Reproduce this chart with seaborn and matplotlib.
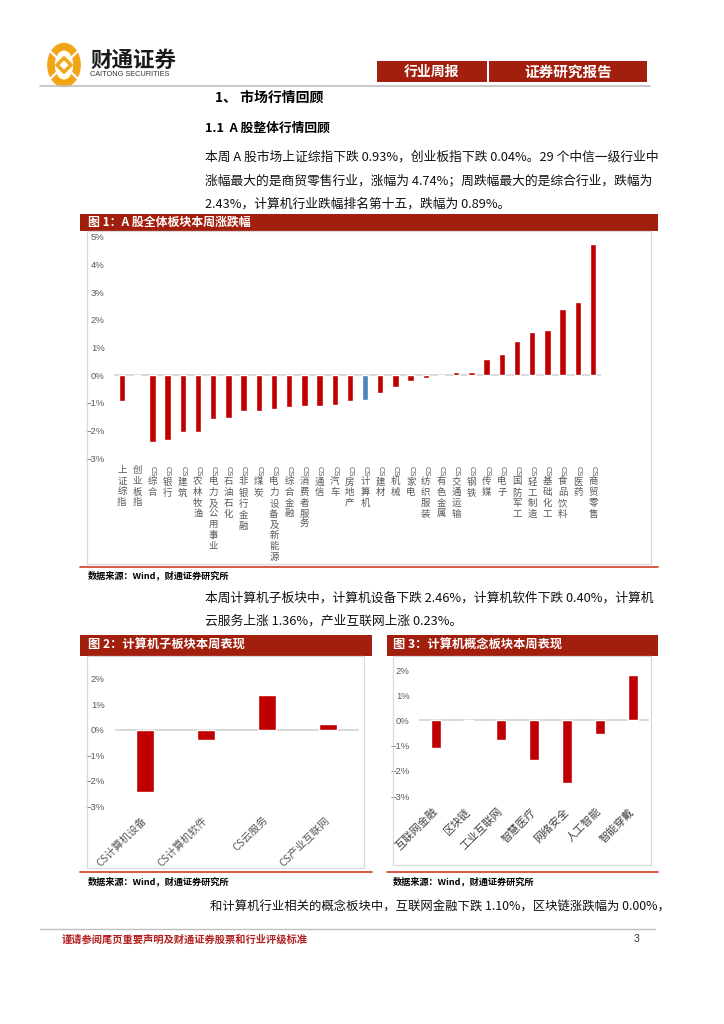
import numpy as np
import pandas as pd
import matplotlib
matplotlib.use("Agg")
import matplotlib.pyplot as plt
import seaborn as sns
from matplotlib.patches import Rectangle, Circle, Polygon
from matplotlib.lines import Line2D
from matplotlib.ticker import FuncFormatter
import matplotlib.transforms as mtrans

# ---------------- data ----------------
sectors = ["上证综指", "创业板指", "CS综合", "CS银行", "CS建筑", "CS农林牧渔",
           "CS电力及公用事业", "CS石油石化", "CS非银行金融", "CS煤炭",
           "CS电力设备及新能源", "CS综合金融", "CS消费者服务", "CS通信", "CS汽车",
           "CS房地产", "CS计算机", "CS建材", "CS机械", "CS家电", "CS纺织服装",
           "CS有色金属", "CS交通运输", "CS钢铁", "CS传媒", "CS电子", "CS国防军工",
           "CS轻工制造", "CS基础化工", "CS食品饮料", "CS医药", "CS商贸零售"]
sector_chg = [-0.93, -0.04, -2.43, -2.36, -2.07, -2.07, -1.60, -1.54, -1.30, -1.30,
              -1.24, -1.17, -1.11, -1.11, -1.09, -0.95, -0.89, -0.63, -0.44, -0.22,
              -0.12, -0.04, 0.10, 0.10, 0.59, 0.75, 1.24, 1.57, 1.63, 2.39, 2.64, 4.74]
highlight = "CS计算机"
main_ticks = [-3, -2, -1, 0, 1, 2, 3, 4, 5]

sub_names = ["CS计算机设备", "CS计算机软件", "CS云服务", "CS产业互联网"]
sub_chg = [-2.46, -0.40, 1.36, 0.23]
sub_ticks = [-3, -2, -1, 0, 1, 2]

concept_names = ["互联网金融", "区块链", "工业互联网", "智慧医疗", "网络安全", "人工智能", "智能穿戴"]
concept_chg = [-1.08, -0.04, -0.79, -1.58, -2.50, -0.53, 1.79]
concept_ticks = [-3, -2, -1, 0, 1, 2]

# ---------------- style ----------------
sns.set_theme(style="white")
plt.rcParams["font.family"] = ["Noto Sans CJK SC", "DejaVu Sans"]
plt.rcParams["axes.unicode_minus"] = True

W, H = 724, 1024
fig = plt.figure(figsize=(W / 100, H / 100), dpi=100)
fig.patch.set_facecolor("white")

DARK_RED = "#A21F0E"
BAR_RED = "#C00000"
LINE_RED = "#D84B33"
GRID_GRAY = "#D9D9D9"
TICK_GRAY = "#595959"
NUM_FONT = ["Liberation Sans", "DejaVu Sans"]


def ax_at(l, t, r, b):
    return fig.add_axes([l / W, 1 - b / H, (r - l) / W, (b - t) / H])


def rect(l, t, r, b, **kw):
    fig.add_artist(Rectangle((l / W, 1 - b / H), (r - l) / W, (b - t) / H,
                             transform=fig.transFigure, **kw))


def hline(y, x0, x1, color, lw):
    fig.add_artist(Line2D([x0 / W, x1 / W], [1 - y / H] * 2,
                          transform=fig.transFigure, color=color, lw=lw))


def txt(x, y, s, **kw):
    kw.setdefault("va", "center")
    fig.text(x / W, 1 - y / H, s, **kw)


def pct(v, pos=None):
    return ("\u2212" if v < 0 else "") + f"{abs(v):.0f}%"


def style_axes(ax, ticks):
    ax.set_ylim(min(ticks), max(ticks))
    ax.set_yticks(ticks)
    ax.yaxis.set_major_formatter(FuncFormatter(pct))
    for lab in ax.get_yticklabels():
        lab.set_fontfamily(NUM_FONT)
    ax.tick_params(axis="y", length=0, labelsize=6.8, labelcolor=TICK_GRAY, pad=7)
    ax.tick_params(axis="x", length=0)
    for sp in ax.spines.values():
        sp.set_visible(False)
    ax.axhline(0, color=GRID_GRAY, lw=1.4, zorder=0.5)
    ax.set_xlabel("")
    ax.set_ylabel("")
    ax.patch.set_alpha(0)


# find a line spacing giving ~10.7 px per stacked character
fig.canvas.draw()
_r = fig.canvas.get_renderer()


def _stack_step(ls, fs=6.8):
    t1 = fig.text(0, 0, "一", fontsize=fs, linespacing=ls)
    t2 = fig.text(0, 0, "一\n一\n一", fontsize=fs, linespacing=ls)
    h1 = t1.get_window_extent(_r).height
    h3 = t2.get_window_extent(_r).height
    t1.remove()
    t2.remove()
    return (h3 - h1) / 2


lo, hi = 0.3, 3.0
for _ in range(30):
    mid = (lo + hi) / 2
    if _stack_step(mid) < 10.7:
        lo = mid
    else:
        hi = mid
STACK_LS = (lo + hi) / 2

# ---------------- header ----------------
cx, cy, rr = 64, 65, 13
fig.add_artist(Circle((cx / W, 1 - cy / H), rr / W, transform=fig.transFigure,
                      fill=False, edgecolor="#F2A516", lw=5.5))
dm = 7
fig.add_artist(Polygon([[(cx) / W, 1 - (cy - dm) / H], [(cx + dm) / W, 1 - cy / H],
                        [(cx) / W, 1 - (cy + dm) / H], [(cx - dm) / W, 1 - cy / H]],
                       closed=True, transform=fig.transFigure, fill=False,
                       edgecolor="#F2A516", lw=2.5))
for ang in (45, 135, 225, 315):
    a = np.deg2rad(ang)
    fig.add_artist(Line2D([(cx + 8 * np.cos(a)) / W, (cx + 19 * np.cos(a)) / W],
                          [1 - (cy + 8 * np.sin(a)) / H, 1 - (cy + 19 * np.sin(a)) / H],
                          transform=fig.transFigure, color="white", lw=1.6))
txt(90, 60, "财通证券", fontsize=15.5, fontweight="black", color="#1a1a1a")
txt(90, 75, "CAITONG SECURITIES", fontsize=5.3, color="#333333", family=NUM_FONT)

rect(377, 61, 487, 82, facecolor=DARK_RED, edgecolor="none")
rect(489, 61, 647, 82, facecolor=DARK_RED, edgecolor="none")
txt(432, 71.5, "行业周报", fontsize=10, fontweight="bold", color="white", ha="center")
txt(568, 71.5, "证券研究报告", fontsize=10.5, fontweight="bold", color="white", ha="center")
hline(85.5, 40, 650, "#BFBFBF", 1.2)

# ---------------- section text ----------------
txt(215, 98, "1、 市场行情回顾", fontsize=10, fontweight="bold", color="black")
txt(205, 128, "1.1  A 股整体行情回顾", fontsize=9.2, fontweight="bold", color="black")
para_kw = dict(fontsize=9.2, color="#111111")
txt(205, 157, "本周 A 股市场上证综指下跌 0.93%，创业板指下跌 0.04%。29 个中信一级行业中", **para_kw)
txt(205, 181, "涨幅最大的是商贸零售行业，涨幅为 4.74%；周跌幅最大的是综合行业，跌幅为", **para_kw)
txt(205, 204, "2.43%，计算机行业跌幅排名第十五，跌幅为 0.89%。", **para_kw)

# ---------------- figure 1 ----------------
rect(80, 214, 658, 231, facecolor=DARK_RED, edgecolor="none")
txt(88, 222.5, "图 1：A 股全体板块本周涨跌幅", fontsize=8.6, fontweight="bold", color="white")
rect(87, 231, 651, 564, fill=False, edgecolor=GRID_GRAY, lw=0.9)
hline(566.5, 80, 658, LINE_RED, 1.3)
txt(88, 575, "数据来源：Wind，财通证券研究所", fontsize=6.6, fontweight="bold", color="black")

ax1 = ax_at(114.4, 237, 600.6, 458)
df1 = pd.DataFrame({"name": sectors, "chg": sector_chg})
pal1 = {n: ("#4F81BD" if n == highlight else BAR_RED) for n in sectors}
sns.barplot(data=df1, x="name", y="chg", hue="name", palette=pal1, width=0.42,
            saturation=1, legend=False, ax=ax1, zorder=2)
ax1.set_xlim(-0.5, len(sectors) - 0.5)
style_axes(ax1, main_ticks)
ax1.set_xticks(range(len(sectors)))
ax1.set_xticklabels([])
trans1 = mtrans.blended_transform_factory(ax1.transData, ax1.transAxes)
TOP_PT = 5.8
STEP_PT = 10.7 * 72 / 100
for i, name in enumerate(sectors):
    rest = name
    first = 0
    if name.startswith("CS"):
        ax1.annotate("CS", xy=(i, 0), xycoords=trans1, xytext=(0, -TOP_PT - 0.3),
                     textcoords="offset points", ha="center", va="top", rotation=-90,
                     fontsize=5.4, color=TICK_GRAY, annotation_clip=False,
                     family=NUM_FONT)
        rest = name[2:]
        first = 1
    ax1.annotate("\n".join(rest), xy=(i, 0), xycoords=trans1,
                 xytext=(0, -TOP_PT - first * (STEP_PT + 0.4)), textcoords="offset points",
                 ha="center", va="top", ma="center", linespacing=STACK_LS,
                 fontsize=6.8, color=TICK_GRAY, annotation_clip=False)

# ---------------- paragraph 2 ----------------
txt(205, 598, "本周计算机子板块中，计算机设备下跌 2.46%，计算机软件下跌 0.40%，计算机", **para_kw)
txt(205, 621, "云服务上涨 1.36%，产业互联网上涨 0.23%。", **para_kw)

# ---------------- figure 2 ----------------
rect(80, 635, 372, 656, facecolor=DARK_RED, edgecolor="none")
txt(88, 645.5, "图 2：计算机子板块本周表现", fontsize=8.8, fontweight="bold", color="white")
rect(87, 656, 364, 868, fill=False, edgecolor=GRID_GRAY, lw=0.9)
hline(871.5, 80, 372, LINE_RED, 1.3)
txt(88, 881, "数据来源：Wind，财通证券研究所", fontsize=6.6, fontweight="bold", color="black")

ax2 = ax_at(114.5, 679, 358.5, 806)
df2 = pd.DataFrame({"name": sub_names, "chg": sub_chg})
sns.barplot(data=df2, x="name", y="chg", color=BAR_RED, width=0.3, saturation=1,
            ax=ax2, zorder=2)
ax2.set_xlim(-0.5, len(sub_names) - 0.5)
style_axes(ax2, sub_ticks)
ax2.set_xticks(range(len(sub_names)))
ax2.set_xticklabels(sub_names, rotation=45, ha="right", va="center",
                    rotation_mode="anchor", fontsize=7.6, color=TICK_GRAY)
ax2.tick_params(axis="x", pad=9)

# ---------------- figure 3 ----------------
rect(387, 635, 658, 656, facecolor=DARK_RED, edgecolor="none")
txt(393, 645.5, "图 3：计算机概念板块本周表现", fontsize=8.8, fontweight="bold", color="white")
rect(393, 656, 651, 865, fill=False, edgecolor=GRID_GRAY, lw=0.9)
hline(871.5, 387, 658, LINE_RED, 1.3)
txt(393, 881, "数据来源：Wind，财通证券研究所", fontsize=6.6, fontweight="bold", color="black")

ax3 = ax_at(419.3, 670, 649, 796)
df3 = pd.DataFrame({"name": concept_names, "chg": concept_chg})
sns.barplot(data=df3, x="name", y="chg", color=BAR_RED, width=0.3, saturation=1,
            ax=ax3, zorder=2)
ax3.set_xlim(-0.5, len(concept_names) - 0.5)
style_axes(ax3, concept_ticks)
ax3.set_xticks(range(len(concept_names)))
ax3.set_xticklabels(concept_names, rotation=45, ha="right", va="center",
                    rotation_mode="anchor", fontsize=7.8, color="#404040")
ax3.tick_params(axis="x", pad=10)

# ---------------- last paragraph & footer ----------------
txt(210, 907, "和计算机行业相关的概念板块中，互联网金融下跌 1.10%，区块链涨跌幅为 0.00%，",
    fontsize=8.9, color="#111111")
hline(929, 40, 655, "#BFBFBF", 1.0)
txt(62, 939, "谨请参阅尾页重要声明及财通证券股票和行业评级标准", fontsize=7.4,
    fontweight="bold", color="#B22222")
txt(634, 939, "3", fontsize=7.5, color="#333333", family=NUM_FONT)

fig.savefig("out.png", dpi=100, facecolor="white")
